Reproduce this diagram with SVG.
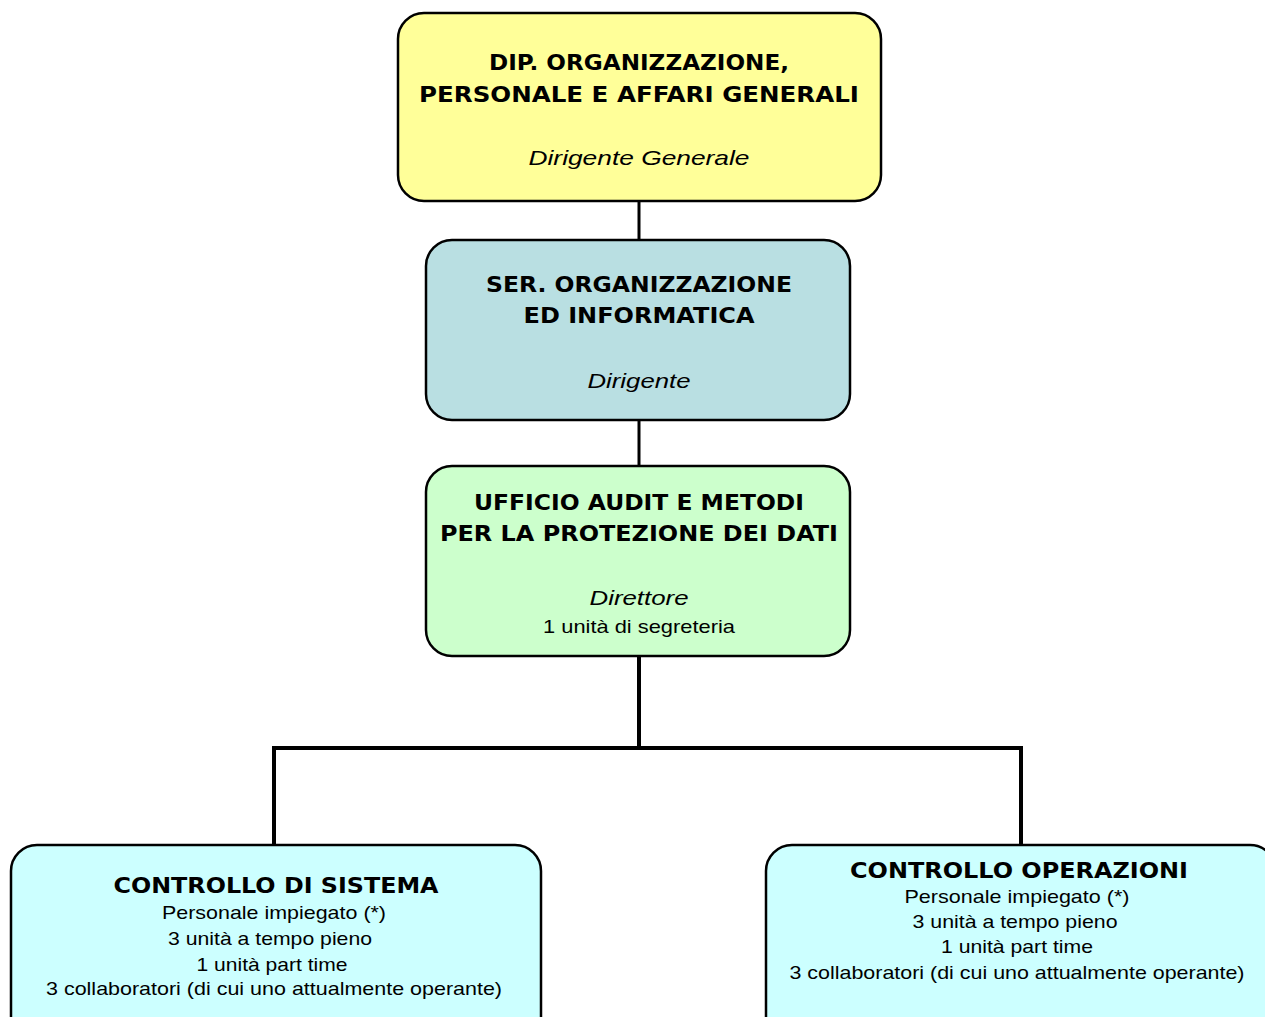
<svg xmlns="http://www.w3.org/2000/svg" width="1265" height="1017" viewBox="0 0 1265 1017">
  <style>
    .box { stroke: #000; stroke-width: 2.5; }
    .wire { stroke: #000; fill: none; stroke-linecap: square; }
    .t { font-family: "DejaVu Sans", "Liberation Sans", sans-serif; font-weight: bold; font-size: 22px; fill: #000; text-anchor: middle; }
    .i { font-family: "Liberation Sans", Arial, sans-serif; font-style: italic; font-size: 21px; fill: #000; text-anchor: middle; }
    .n { font-family: "Liberation Sans", Arial, sans-serif; font-size: 19px; fill: #000; text-anchor: middle; }
  </style>
  <rect width="1265" height="1017" fill="#fff"/>

  <!-- connectors -->
  <g id="connectors">
    <line class="wire" x1="639" y1="201" x2="639" y2="240" stroke-width="3"/>
    <line class="wire" x1="639" y1="420" x2="639" y2="466" stroke-width="3"/>
    <line class="wire" x1="639" y1="656" x2="639" y2="748" stroke-width="4"/>
    <line class="wire" x1="274" y1="748" x2="1021" y2="748" stroke-width="4"/>
    <line class="wire" x1="274" y1="748" x2="274" y2="844" stroke-width="4"/>
    <line class="wire" x1="1021" y1="748" x2="1021" y2="844" stroke-width="4"/>
  </g>

  <!-- department -->
  <g id="dip">
    <rect class="box" x="398" y="13" width="483" height="188" rx="26" fill="#FFFF99"/>
    <text class="t" x="639" y="70" textLength="300" lengthAdjust="spacingAndGlyphs">DIP. ORGANIZZAZIONE,</text>
    <text class="t" x="639" y="102" textLength="440" lengthAdjust="spacingAndGlyphs">PERSONALE E AFFARI GENERALI</text>
    <text class="i" x="639" y="165" textLength="221" lengthAdjust="spacingAndGlyphs">Dirigente Generale</text>
  </g>

  <!-- service -->
  <g id="ser">
    <rect class="box" x="426" y="240" width="424" height="180" rx="26" fill="#B9DFE2"/>
    <text class="t" x="639" y="292" textLength="306" lengthAdjust="spacingAndGlyphs">SER. ORGANIZZAZIONE</text>
    <text class="t" x="639" y="323" textLength="231" lengthAdjust="spacingAndGlyphs">ED INFORMATICA</text>
    <text class="i" x="639" y="388" textLength="103" lengthAdjust="spacingAndGlyphs">Dirigente</text>
  </g>

  <!-- office -->
  <g id="ufficio">
    <rect class="box" x="426" y="466" width="424" height="190" rx="26" fill="#CCFFCC"/>
    <text class="t" x="639" y="510" textLength="330" lengthAdjust="spacingAndGlyphs">UFFICIO AUDIT E METODI</text>
    <text class="t" x="639" y="541" textLength="398" lengthAdjust="spacingAndGlyphs">PER LA PROTEZIONE DEI DATI</text>
    <text class="i" x="639" y="605" textLength="99" lengthAdjust="spacingAndGlyphs">Direttore</text>
    <text class="n" x="639" y="633" textLength="192" lengthAdjust="spacingAndGlyphs">1 unità di segreteria</text>
  </g>

  <!-- system control -->
  <g id="sistema">
    <rect class="box" x="11" y="845" width="530" height="200" rx="26" fill="#CCFFFF"/>
    <text class="t" x="276" y="893" textLength="325" lengthAdjust="spacingAndGlyphs">CONTROLLO DI SISTEMA</text>
    <text class="n" x="274" y="919" textLength="224" lengthAdjust="spacingAndGlyphs">Personale impiegato (*)</text>
    <text class="n" x="270" y="945" textLength="204" lengthAdjust="spacingAndGlyphs">3 unità a tempo pieno</text>
    <text class="n" x="272" y="971" textLength="151" lengthAdjust="spacingAndGlyphs">1 unità part time</text>
    <text class="n" x="274" y="995" textLength="456" lengthAdjust="spacingAndGlyphs">3 collaboratori (di cui uno attualmente operante)</text>
  </g>

  <!-- operations control -->
  <g id="operazioni">
    <rect class="box" x="766" y="845" width="510" height="200" rx="26" fill="#CCFFFF"/>
    <text class="t" x="1019" y="878" textLength="338" lengthAdjust="spacingAndGlyphs">CONTROLLO OPERAZIONI</text>
    <text class="n" x="1017" y="903" textLength="225" lengthAdjust="spacingAndGlyphs">Personale impiegato (*)</text>
    <text class="n" x="1015" y="928" textLength="205" lengthAdjust="spacingAndGlyphs">3 unità a tempo pieno</text>
    <text class="n" x="1017" y="953" textLength="152" lengthAdjust="spacingAndGlyphs">1 unità part time</text>
    <text class="n" x="1017" y="979" textLength="455" lengthAdjust="spacingAndGlyphs">3 collaboratori (di cui uno attualmente operante)</text>
  </g>
</svg>
